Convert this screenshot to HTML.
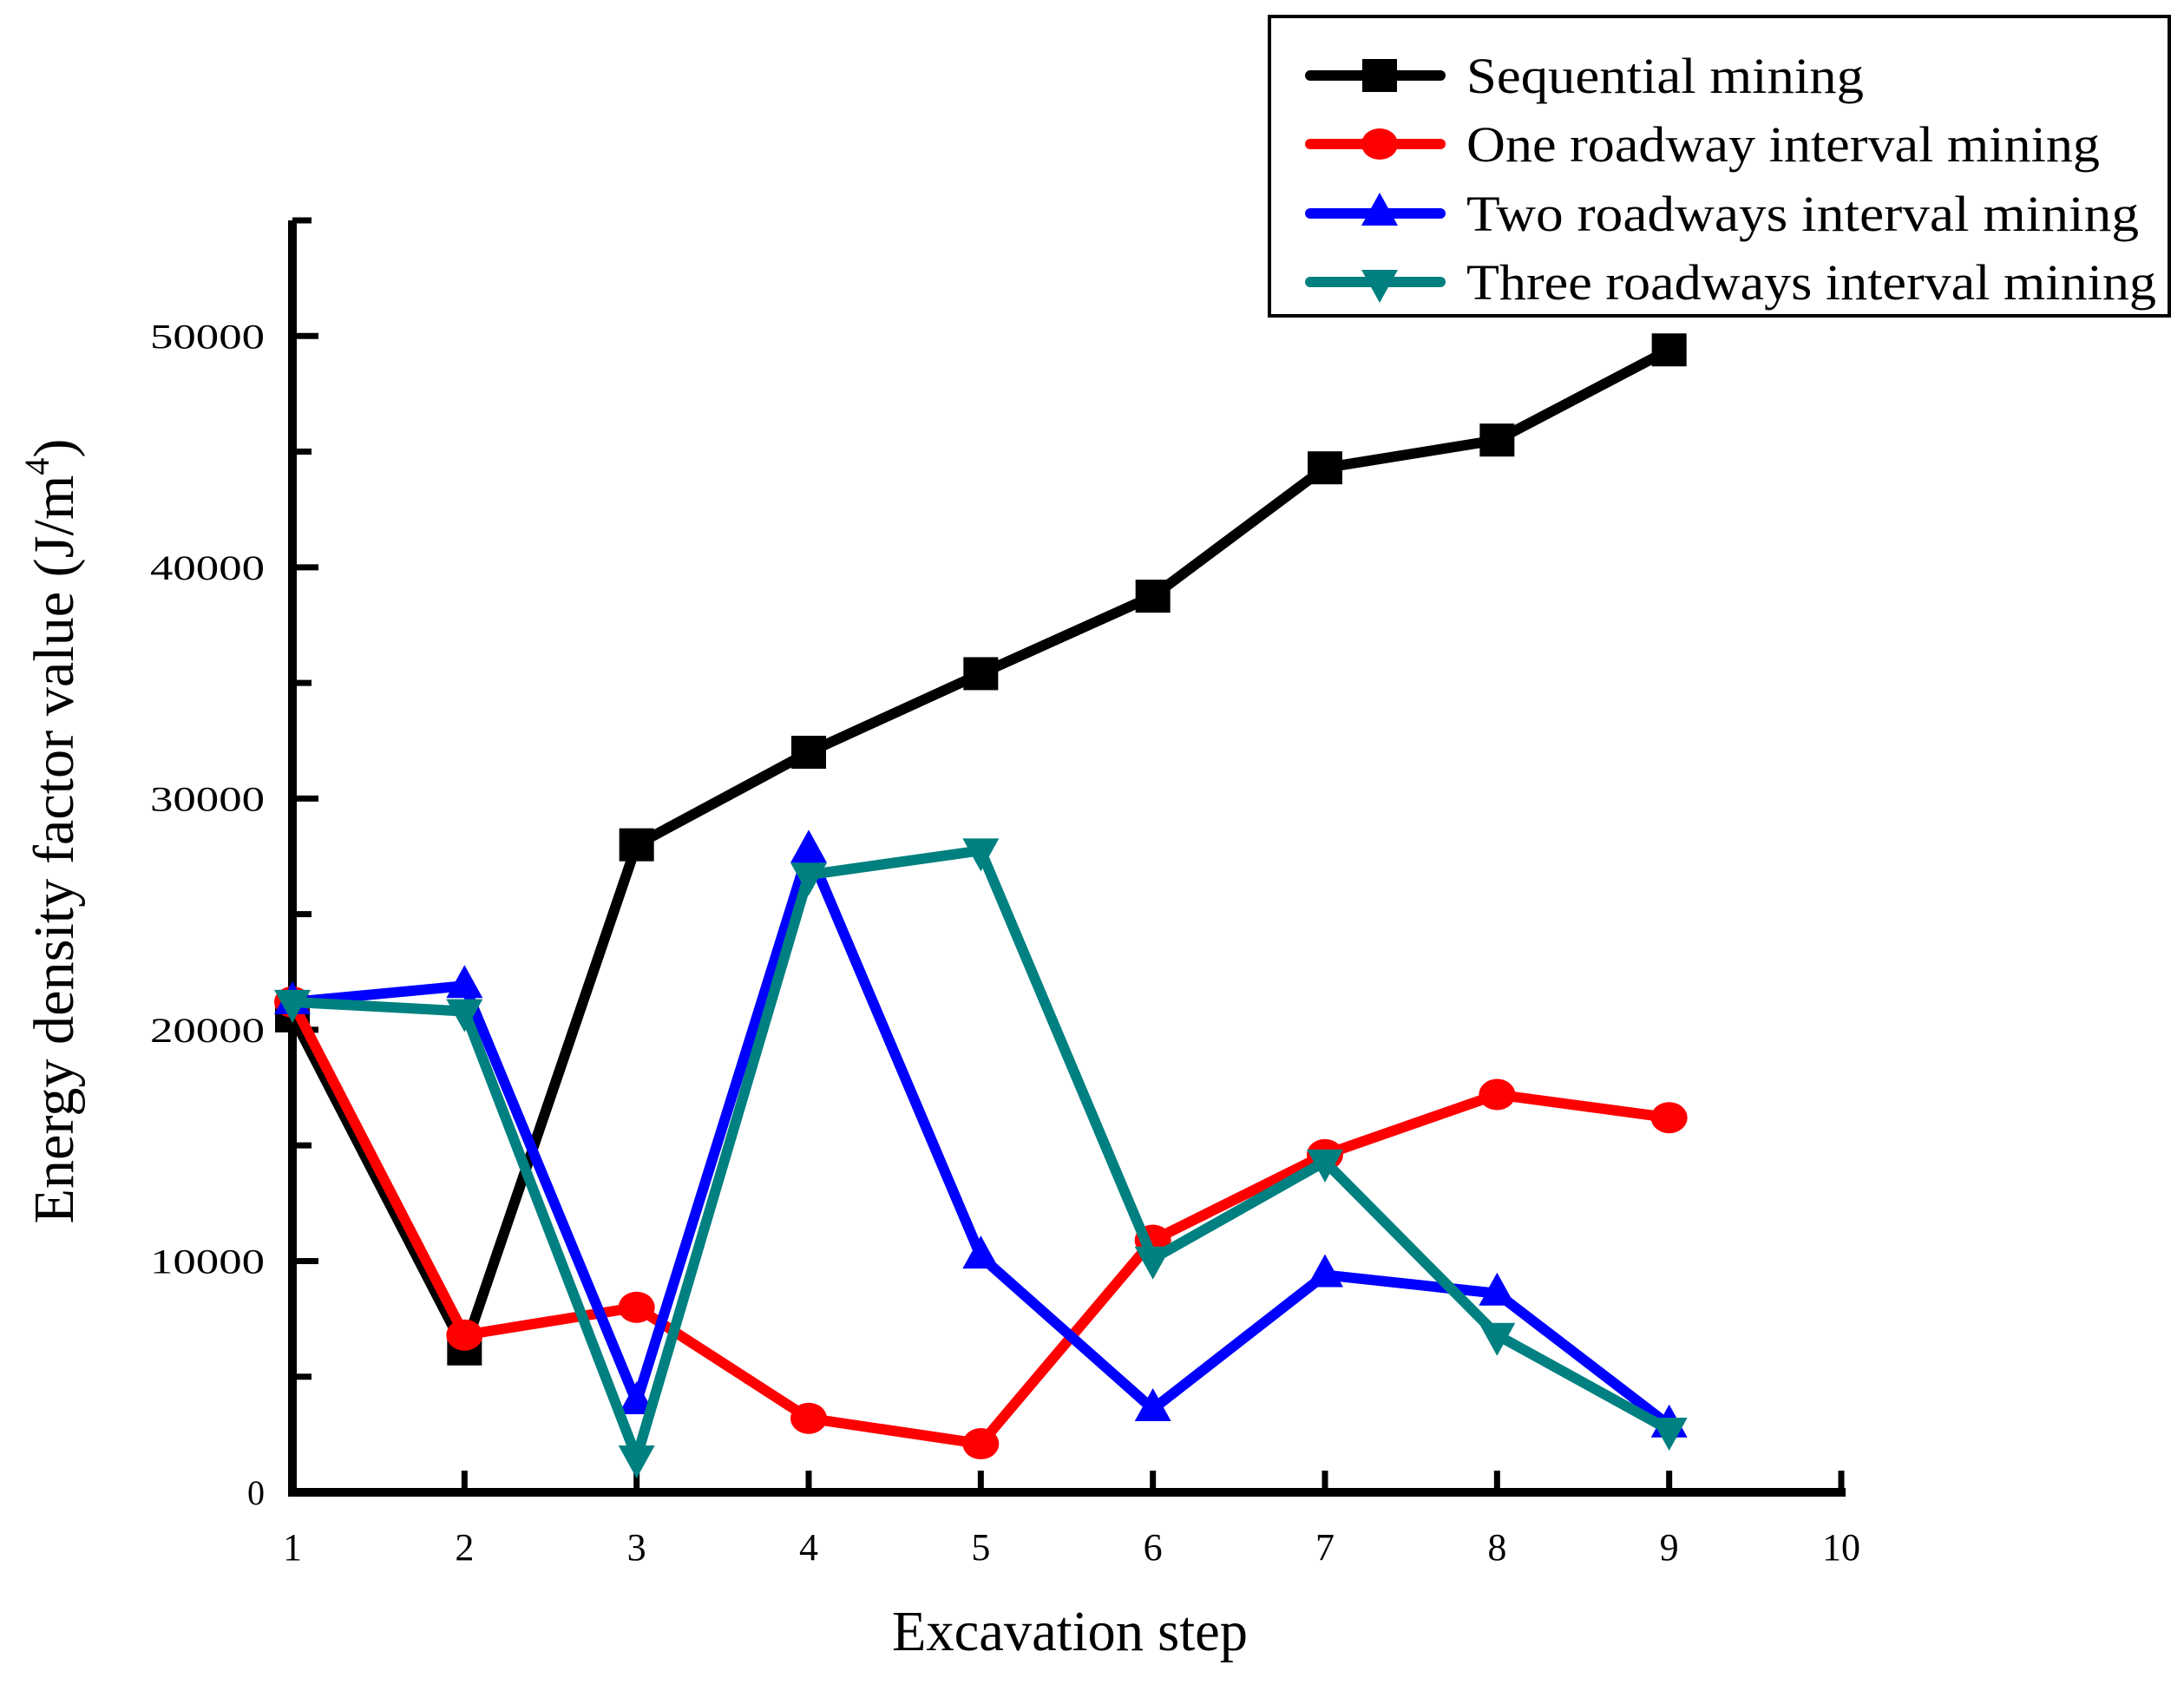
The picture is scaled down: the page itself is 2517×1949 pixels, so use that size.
<!DOCTYPE html>
<html><head><meta charset="utf-8"><style>
html,body{margin:0;padding:0;background:#fff}
svg{display:block}
text{font-family:"Liberation Serif",serif;fill:#000}
</style></head><body>
<svg id="chart" width="2517" height="1949" viewBox="0 0 2517 1949" xmlns="http://www.w3.org/2000/svg">
<g id="axes"></g>
<g id="series"></g>
<g id="legend"></g>
<text x="1233" y="1902" font-size="66" text-anchor="middle" textLength="410" lengthAdjust="spacingAndGlyphs">Excavation step</text>
<text transform="translate(84,958) rotate(-90)" font-size="66" text-anchor="middle" textLength="905" lengthAdjust="spacingAndGlyphs">Energy density factor value (J/m<tspan dy="-28" font-size="40">4</tspan><tspan dy="28">)</tspan></text>
</svg>
<script>
const steps = [1,2,3,4,5,6,7,8,9];
const xTicks = [1,2,3,4,5,6,7,8,9,10];
const yTicks = [0,10000,20000,30000,40000,50000];
const yMinorTicks = [5000,15000,25000,35000,45000,55000];
const sequential = [20600,6200,28000,32000,35400,38750,44300,45500,49400];
const oneRoadway = [21200,6800,8000,3200,2100,10900,14600,17200,16200];
const twoRoadways = [21200,21900,3900,27750,10200,3600,9400,8600,2900];
const threeRoadways = [21200,20800,1500,26700,27750,10100,14300,6800,2700];
const seriesNames = ["Sequential mining","One roadway interval mining","Two roadways interval mining","Three roadways interval mining"];

const NS="http://www.w3.org/2000/svg";
const X0=337,X1=2122,Y0=1720,YT=254;
const xs=v=>X0+(v-1)*(X1-X0)/9;
const ys=v=>Y0-v*(Y0-YT)/55000;
function mk(tag,attrs,parent){const e=document.createElementNS(NS,tag);for(const k in attrs)e.setAttribute(k,attrs[k]);parent.appendChild(e);return e;}
const axes=document.getElementById('axes');
let e;
e=mk('line',{x1:X0,y1:YT,x2:X0,y2:Y0+5,stroke:'#000','stroke-width':10},axes);


e=mk('line',{x1:X0-5,y1:Y0,x2:X1+5,y2:Y0,stroke:'#000','stroke-width':10},axes);


yTicks.forEach(v=>{
  const t=mk('line',{x1:X0,y1:ys(v),x2:X0+30,y2:ys(v),stroke:'#000','stroke-width':7},axes);
  
  
  const l=mk('text',{x:305,y:ys(v)+14,'font-size':40,'text-anchor':'end'},axes);
  if(v>0){l.setAttribute('textLength',132);l.setAttribute('lengthAdjust','spacingAndGlyphs');}
  l.textContent=v;
  
  
});
yMinorTicks.forEach(v=>{
  const t=mk('line',{x1:X0,y1:ys(v),x2:X0+22,y2:ys(v),stroke:'#000','stroke-width':7},axes);
  
  
});
xTicks.forEach(v=>{
  const t=mk('line',{x1:xs(v),y1:Y0,x2:xs(v),y2:Y0-25,stroke:'#000','stroke-width':7},axes);
  
  
  const l=mk('text',{x:xs(v),y:1798,'font-size':44,'text-anchor':'middle'},axes);
  l.textContent=v;
  
  
});
function marker(type,cx,cy,color,parent){
  let m;
  if(type==='square') m=mk('rect',{x:cx-20,y:cy-19,width:40,height:38,fill:color},parent);
  else if(type==='circle') m=mk('ellipse',{cx:cx,cy:cy,rx:21,ry:18,fill:color},parent);
  else if(type==='up') m=mk('polygon',{points:`${cx},${cy-24} ${cx-21},${cy+14} ${cx+21},${cy+14}`,fill:color},parent);
  else m=mk('polygon',{points:`${cx},${cy+24} ${cx-21},${cy-14} ${cx+21},${cy-14}`,fill:color},parent);
  return m;
}
const defs=[[sequential,'#000','square'],[oneRoadway,'#ff0000','circle'],[twoRoadways,'#0000ff','up'],[threeRoadways,'#008080','down']];
const sg=document.getElementById('series');
defs.forEach((d,i)=>{
  const g=mk('g',{},sg);
  
  
  const pl=mk('polyline',{points:d[0].map((v,j)=>xs(steps[j])+','+ys(v)).join(' '),fill:'none',stroke:d[1],'stroke-width':12,'stroke-linejoin':'round'},g);
  
  
  d[0].forEach((v,j)=>{
    const m=marker(d[2],xs(steps[j]),ys(v),d[1],g);
    
    
  });
});
const lg=document.getElementById('legend');
e=mk('rect',{x:1463,y:19,width:1037,height:345,fill:'#fff',stroke:'#000','stroke-width':4},lg);


const rowsY=[87,166,246,325];
const widths=[458,730,775,795];
defs.forEach((d,i)=>{
  const g=mk('g',{},lg);
  
  
  mk('line',{x1:1510,y1:rowsY[i],x2:1660,y2:rowsY[i],stroke:d[1],'stroke-width':12,'stroke-linecap':'round'},g);
  marker(d[2],1590,rowsY[i],d[1],g);
  const t=mk('text',{x:1690,y:rowsY[i]+20,'font-size':58,textLength:widths[i],lengthAdjust:'spacingAndGlyphs'},g);
  t.textContent=seriesNames[i];
});
</script>
</body></html>
